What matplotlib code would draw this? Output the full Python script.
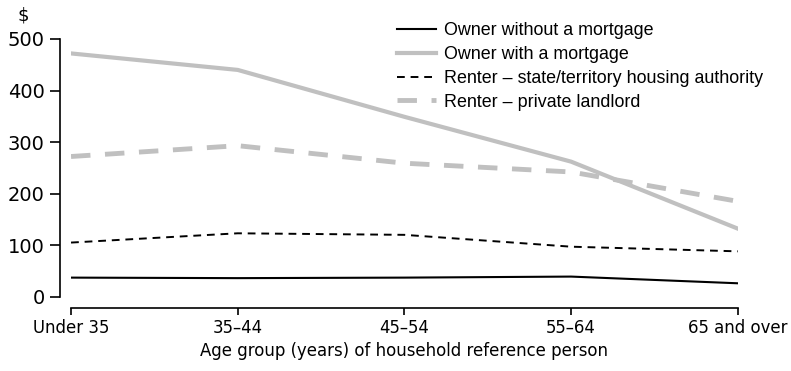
import matplotlib
matplotlib.use('Agg')
import matplotlib.pyplot as plt
import numpy as np

# 各年龄组的住房支出（每周，$）
age_groups = ['Under 35', '35\u201344', '45\u201354', '55\u201364', '65 and over']
owner_no_mortgage = [37, 36, 37, 39, 26]
owner_mortgage = [472, 440, 349, 262, 132]
renter_state = [105, 123, 120, 97, 88]
renter_private = [272, 293, 259, 242, 185]

narrow = ['Liberation Sans Narrow', 'DejaVu Sans']

fig = plt.figure(figsize=(7.91, 3.71), dpi=100)
ax = fig.add_axes([0.0898, 0.2003, 0.843, 0.6946])

x = np.arange(len(age_groups))
ax.plot(x, owner_no_mortgage, color='black', lw=1.5, label='Owner without a mortgage')
ax.plot(x, owner_mortgage, color='#c0c0c0', lw=3, label='Owner with a mortgage')
ax.plot(x, renter_state, color='black', lw=1.4, dashes=(4, 3),
        label='Renter \u2013 state/territory housing authority')
ax.plot(x, renter_private, color='#c0c0c0', lw=3.5, dashes=(4, 3),
        label='Renter \u2013 private landlord')

ax.set_xlim(0, 4)
ax.set_ylim(0, 500)
ax.set_yticks(range(0, 501, 100))
ax.set_xticks(x, age_groups)

for s in ['top', 'right']:
    ax.spines[s].set_visible(False)
ax.spines['left'].set_position(('outward', 8))
ax.spines['bottom'].set_position(('outward', 8))
ax.spines['left'].set_bounds(0, 500)
ax.spines['bottom'].set_bounds(0, 4)
ax.spines['left'].set_linewidth(1.2)
ax.spines['bottom'].set_linewidth(1.2)
ax.tick_params(axis='y', length=7, width=1.2, pad=4, labelsize=14)
ax.tick_params(axis='x', length=5, width=1.2, pad=3, labelsize=13.2)
for lab in ax.get_xticklabels():
    lab.set_family(narrow)
    lab.set_stretch('condensed')

ax.set_xlabel('Age group (years) of household reference person',
              family=narrow, stretch='condensed', fontsize=13.2, labelpad=4)
fig.text(0.022, 0.945, '$', fontsize=13)

ax.legend(loc='upper left', bbox_to_anchor=(0.502, 0.94),
          bbox_transform=fig.transFigure, frameon=False,
          prop={'family': 'Liberation Sans', 'size': 12.9},
          handlelength=2.15, handletextpad=0.45,
          labelspacing=0.38, borderpad=0, borderaxespad=0)

fig.savefig('out.png', dpi=100)
